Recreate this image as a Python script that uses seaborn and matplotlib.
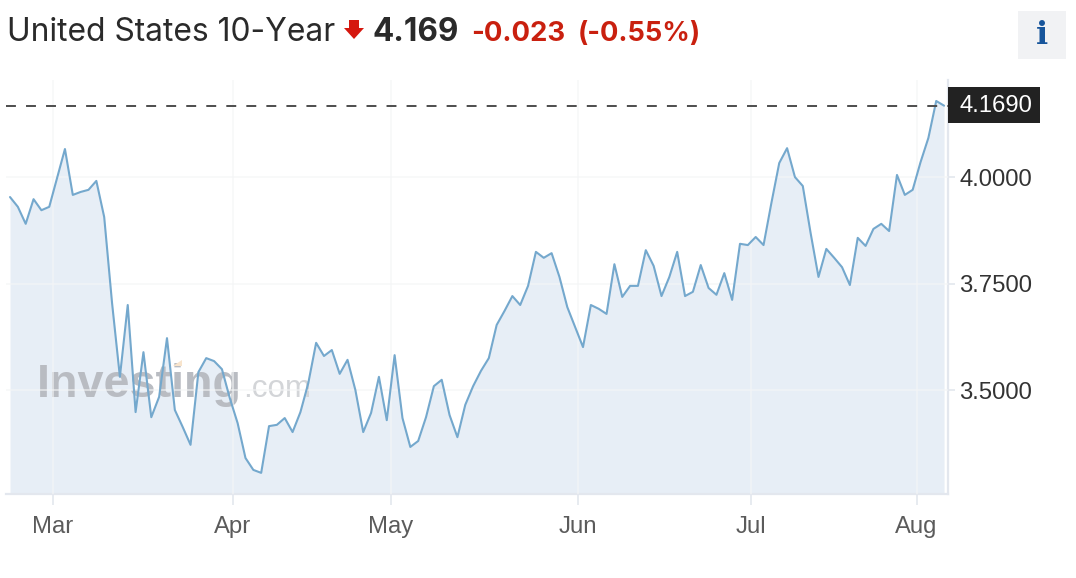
import numpy as np
import pandas as pd
import matplotlib
matplotlib.use("Agg")
import matplotlib.pyplot as plt
from matplotlib.patches import Polygon, Rectangle
import seaborn as sns

# daily yield values
yields = [
    3.954, 3.931, 3.891, 3.949, 3.923, 3.931, 3.999, 4.067, 3.959, 3.966,
    3.971, 3.992, 3.907, 3.705, 3.531, 3.700, 3.448, 3.589, 3.436, 3.484,
    3.622, 3.453, 3.413, 3.371, 3.542, 3.575, 3.568, 3.549, 3.481, 3.422,
    3.340, 3.312, 3.305, 3.415, 3.418, 3.434, 3.401, 3.448, 3.516, 3.611,
    3.580, 3.594, 3.538, 3.571, 3.500, 3.401, 3.446, 3.531, 3.429, 3.582,
    3.434, 3.366, 3.380, 3.436, 3.509, 3.524, 3.441, 3.389, 3.465, 3.509,
    3.545, 3.575, 3.653, 3.686, 3.721, 3.700, 3.745, 3.825, 3.811, 3.822,
    3.766, 3.695, 3.648, 3.601, 3.700, 3.691, 3.679, 3.796, 3.719, 3.745,
    3.745, 3.829, 3.792, 3.721, 3.766, 3.825, 3.721, 3.731, 3.794, 3.740,
    3.724, 3.775, 3.712, 3.844, 3.841, 3.860, 3.841, 3.940, 4.034, 4.069,
    4.001, 3.980, 3.869, 3.766, 3.832, 3.811, 3.789, 3.747, 3.858, 3.839,
    3.879, 3.891, 3.874, 4.006, 3.959, 3.971, 4.036, 4.093, 4.180, 4.169,
]
month_labels = ["Mar", "Apr", "May", "Jun", "Jul", "Aug"]
month_pos = [5.48, 28.4, 48.5, 72.36, 94.4, 115.5]
y_ticks = [3.5, 3.75, 4.0]
last_price = 4.169

W, H = 1076, 578
LINE = "#74a8cd"
FILL = "#e7eef6"
GRID = "#f4f5f6"
AXIS = "#e3e7ee"

df = pd.DataFrame({"day": np.arange(len(yields)), "yield": yields})

sns.set_theme(style="white")
plt.rcParams["font.family"] = ["Liberation Sans", "DejaVu Sans"]

fig = plt.figure(figsize=(W / 100, H / 100), dpi=100, facecolor="white")
# axes box in pixels: left 6, right 948, top 80, bottom 494
ax = fig.add_axes([6 / W, 1 - 494 / H, 942 / W, 414 / H])


def px(x, y):
    return x / W, 1 - y / H


ax.fill_between(df["day"], df["yield"], 3.0, color=FILL, lw=0, zorder=1)
ax.set_xticks(month_pos)
ax.set_xticklabels(month_labels)
ax.set_yticks(y_ticks)
ax.set_yticklabels([f"{v:.4f}" for v in y_ticks])
ax.grid(True, color=GRID, lw=1.2)
ax.set_axisbelow(False)
for g in ax.get_xgridlines() + ax.get_ygridlines():
    g.set_alpha(0.7)
    g.set_zorder(1.5)

# watermark sits under the line, drawn inside the axes so the fill stays behind it
ax.text(*px(37, 397), "Investing", fontsize=33.7, fontweight="bold", color="#b9bcc2",
        transform=fig.transFigure, zorder=2.5)
ax.text(*px(243, 397), ".com", fontsize=22.6, color="#d3d5d8",
        transform=fig.transFigure, zorder=2.5)
accent = [(173, 366), (182, 360), (182, 366)]
ax.add_patch(Polygon([px(*p) for p in accent], closed=True, transform=fig.transFigure,
                     color="#f8e4cc", lw=0, zorder=2.6))

sns.lineplot(data=df, x="day", y="yield", ax=ax, color=LINE, lw=1.5, zorder=3)
ax.axhline(last_price, color="#4d4d4d", lw=1.4, dashes=(5.1, 5.2), zorder=4)

ax.set_xlim(-0.51, 119.5)
ax.set_ylim(3.2553, 4.2294)
ax.set_xlabel("")
ax.set_ylabel("")
ax.yaxis.tick_right()
for side in ["top", "left"]:
    ax.spines[side].set_visible(False)
for side in ["bottom", "right"]:
    ax.spines[side].set_color(AXIS)
    ax.spines[side].set_linewidth(1.6)
ax.tick_params(axis="x", length=8, width=1.2, color=AXIS, labelsize=17.2,
               labelcolor="#5b5b5b", pad=7.5, bottom=True)
ax.tick_params(axis="y", length=5, width=1.2, color=AXIS, labelsize=17.2,
               labelcolor="#333333", pad=3.2, right=True)

# price tag on the right axis
fig.add_artist(Rectangle(px(948, 123), 92 / W, 36 / H, transform=fig.transFigure,
                         color="#222222", lw=0, zorder=6))
fig.text(*px(996, 106), "4.1690", color="white", fontsize=17.2, ha="center", va="center", zorder=7)

# header
fig.text(*px(7, 41), "United States 10-Year", fontsize=22.9, color="#2a2a2a",
         family="Inter")
arrow = [(349, 20), (359, 20), (359, 28), (364, 28), (354, 39), (344, 28), (349, 28)]
fig.add_artist(Polygon([px(*p) for p in arrow], closed=True, transform=fig.transFigure,
                       color="#d5170e", lw=0))
fig.text(*px(373, 41), "4.169", fontsize=22.7, fontweight="bold", color="#2a2a2a", family="Inter")
fig.text(*px(471, 41), "-0.023", fontsize=19.8, fontweight="bold", color="#c9200f", family="Inter")
fig.text(*px(578, 41), "(-0.55%)", fontsize=19.6, fontweight="bold", color="#c9200f", family="Inter")

# info button
fig.add_artist(Rectangle(px(1018, 59), 48 / W, 48 / H, transform=fig.transFigure,
                         color="#f1f2f4", lw=0))
fig.text(*px(1042, 36), "i", fontsize=23, fontweight="bold", color="#17559b",
         family="DejaVu Serif", ha="center", va="center")

fig.savefig("out.png", dpi=100)
